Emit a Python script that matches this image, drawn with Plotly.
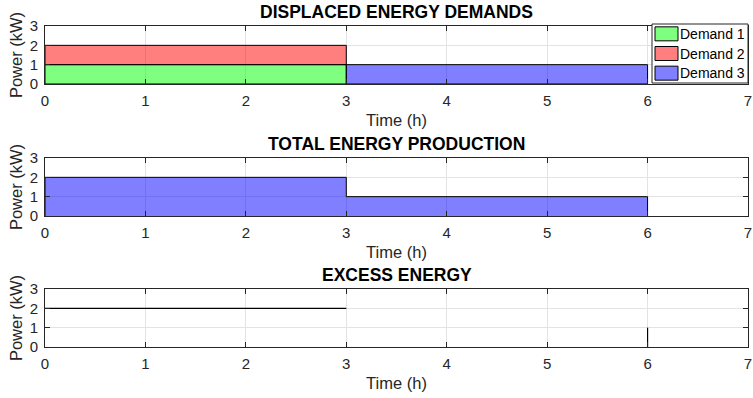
import plotly.graph_objects as go

# ---- data -------------------------------------------------------------
hour_ticks = [0, 1, 2, 3, 4, 5, 6, 7]
power_ticks = [0, 1, 2, 3]

demand_names = ["Demand 1", "Demand 2", "Demand 3"]
demand_start_h = [0, 0, 3]
demand_end_h = [3, 3, 6]
demand_kw = [1, 1, 1]
demand_colors = ["rgba(0,255,0,0.5)", "rgba(255,0,0,0.5)", "rgba(0,0,255,0.5)"]

production_time_h = [0, 3, 6]
production_kw = [2, 1]

excess_segment_x = [[0, 3], [6, 6]]
excess_segment_kw = [[2, 2], [0, 1]]

panel_titles = ["DISPLACED ENERGY DEMANDS", "TOTAL ENERGY PRODUCTION", "EXCESS ENERGY"]

# ---- figure geometry ----------------------------------------------------
W, H = 753, 398
FONT = "Liberation Sans, Arial, Helvetica, sans-serif"
INK = "#262626"
panel_px = [(26, 84), (158, 216), (289, 347)]   # top / bottom of each axes box
x_dom = [45 / W, 748 / W]

fig = go.Figure()

# displaced demands: stacked blocks
for i, name in enumerate(demand_names):
    s, e, v = demand_start_h[i], demand_end_h[i], demand_kw[i]
    base = sum(demand_kw[j] for j in range(i)
               if demand_start_h[j] < e and demand_end_h[j] > s)
    fig.add_trace(go.Scatter(
        x=[s, s, e, e, s], y=[base, base + v, base + v, base, base],
        mode="lines", fill="toself", fillcolor=demand_colors[i],
        line=dict(color="black", width=1), name=name, showlegend=False,
        xaxis="x", yaxis="y"))

# total production: staircase area
px, py = [production_time_h[0]], [0]
for k, p in enumerate(production_kw):
    px += [production_time_h[k], production_time_h[k + 1]]
    py += [p, p]
px.append(production_time_h[-1])
py.append(0)
fig.add_trace(go.Scatter(
    x=px, y=py, mode="lines", fill="toself", fillcolor=demand_colors[2],
    line=dict(color="black", width=1), showlegend=False,
    xaxis="x2", yaxis="y2"))

# excess energy
for sx, sy in zip(excess_segment_x, excess_segment_kw):
    fig.add_trace(go.Scatter(
        x=sx, y=sy, mode="lines", line=dict(color="black", width=1.2),
        showlegend=False, xaxis="x3", yaxis="y3"))

# ---- axes ---------------------------------------------------------------
def xaxis_cfg(anchor):
    return dict(domain=x_dom, anchor=anchor, range=[0, 7], tickvals=hour_ticks,
                automargin=False,
                ticks="inside", ticklen=5, tickwidth=1, tickcolor=INK,
                showline=True, linecolor=INK, linewidth=1, mirror="ticks",
                showgrid=True, gridcolor="#e3e3e3", gridwidth=1, zeroline=False,
                tickfont=dict(size=15, color=INK, family=FONT),
                ticklabelstandoff=3,
                title=dict(text="Time (h)", font=dict(size=16.5, color=INK, family=FONT),
                           standoff=6))

def yaxis_cfg(anchor, top, bottom):
    return dict(domain=[1 - bottom / H, 1 - top / H], anchor=anchor, range=[0, 3],
                automargin=False,
                tickvals=power_ticks, ticks="inside", ticklen=5, tickwidth=1,
                tickcolor=INK, showline=True, linecolor=INK, linewidth=1,
                mirror="ticks", showgrid=True, gridcolor="#e3e3e3", gridwidth=1,
                zeroline=False, tickfont=dict(size=15, color=INK, family=FONT),
                ticklabelstandoff=3,
                title=dict(text="Power (kW)", font=dict(size=16.5, color=INK, family=FONT),
                           standoff=2))

layout = dict(width=W, height=H, margin=dict(l=0, r=0, t=0, b=0, autoexpand=False),
              paper_bgcolor="white", plot_bgcolor="white",
              font=dict(family=FONT, color=INK), showlegend=False)
for k, (top, bottom) in enumerate(panel_px):
    sfx = "" if k == 0 else str(k + 1)
    layout["xaxis" + sfx] = xaxis_cfg("y" + sfx)
    layout["yaxis" + sfx] = yaxis_cfg("x" + sfx, top, bottom)
fig.update_layout(**layout)

# panel titles
for k, (top, bottom) in enumerate(panel_px):
    fig.add_annotation(text="<b>%s</b>" % panel_titles[k], xref="paper", yref="paper",
                       x=(x_dom[0] + x_dom[1]) / 2, y=1 - (top - 14) / H,
                       xanchor="center", yanchor="middle", showarrow=False,
                       font=dict(size=17.5, color="black", family=FONT))

# legend box for the demands panel
lg_l, lg_r, lg_t, lg_b = 652, 748, 24, 83
fig.add_shape(type="rect", xref="paper", yref="paper",
              x0=lg_l / W, x1=lg_r / W, y0=1 - lg_b / H, y1=1 - lg_t / H,
              fillcolor="white", line=dict(color=INK, width=1), layer="above")
row_h = (lg_b - lg_t) / len(demand_names)
for i, name in enumerate(demand_names):
    cy = lg_t + row_h * (i + 0.5)
    fig.add_shape(type="rect", xref="paper", yref="paper",
                  x0=655 / W, x1=678 / W, y0=1 - (cy + 7) / H, y1=1 - (cy - 7) / H,
                  fillcolor=demand_colors[i], line=dict(color="black", width=1),
                  layer="above")
    fig.add_annotation(text=name, xref="paper", yref="paper", x=678 / W, y=1 - cy / H,
                       xanchor="left", yanchor="middle", showarrow=False,
                       font=dict(size=14, color="black", family=FONT))

fig.write_html("out.html")
